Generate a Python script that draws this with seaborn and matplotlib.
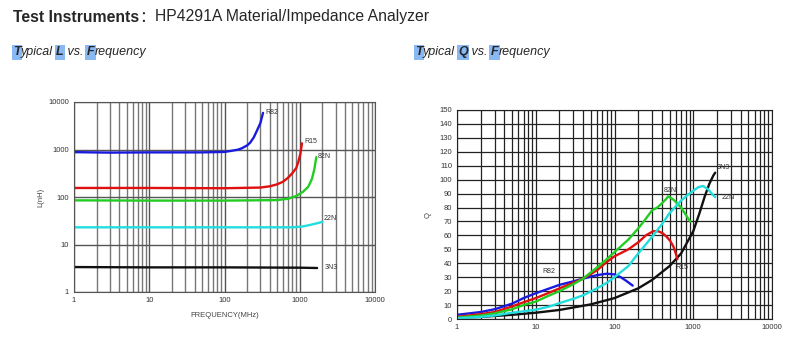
"""Recreate the HP4291A L / Q versus frequency chart."""

import matplotlib
matplotlib.use("Agg")
import matplotlib.pyplot as plt
import numpy as np
import pandas as pd
import seaborn as sns
from matplotlib.ticker import FixedLocator, LogLocator, NullFormatter

# ---- L vs frequency (nH vs MHz) ----
L_R82_F = [1, 3, 10, 50, 100, 120, 150, 170, 200, 220, 245, 270, 300, 325]
L_R82_V = [880, 860, 870, 870, 890, 930, 990, 1060, 1220, 1400, 1800, 2500, 3600, 5900]
L_R15_F = [1, 10, 100, 300, 400, 500, 600, 700, 800, 900, 960, 1020, 1070]
L_R15_V = [155, 155, 153, 158, 168, 185, 210, 255, 320, 410, 560, 820, 1350]
L_82N_F = [1, 10, 100, 500, 700, 900, 1100, 1300, 1450, 1560, 1660]
L_82N_V = [85, 84, 84, 86, 92, 105, 128, 165, 240, 380, 690]
L_22N_F = [1, 10, 100, 800, 1100, 1400, 1700, 2000]
L_22N_V = [23, 23, 23, 23, 24, 26, 28, 30]
L_3N3_F = [1, 10, 100, 1000, 1700]
L_3N3_V = [3.35, 3.3, 3.3, 3.25, 3.2]

# ---- Q vs frequency ----
Q_3N3_F = [1, 2, 5, 10, 20, 50, 100, 200, 300, 500, 700, 1000, 1200, 1400, 1600, 1800, 1900]
Q_3N3_V = [1, 1.5, 3, 4.5, 6.5, 10.5, 15, 22, 28, 38, 47, 63, 76, 88, 97, 103, 105]
Q_R82_F = [1, 2, 3, 5, 7, 10, 15, 20, 30, 40, 60, 80, 100, 120, 140, 170]
Q_R82_V = [3, 5, 7, 11, 15, 18.5, 22, 24.5, 27, 29, 31.5, 32.5, 32, 30, 27.5, 24]
Q_R15_F = [1, 2, 3, 5, 7, 10, 15, 20, 30, 40, 60, 80, 100, 150, 200, 250, 310,
           360, 410, 460, 510, 560, 600, 630]
Q_R15_V = [1.5, 3.5, 5, 9, 12, 15, 19, 22, 26, 29, 35, 41, 45, 50, 55, 60, 63,
           63, 61.5, 59, 56, 52, 47, 43]
Q_82N_F = [1, 2, 3, 5, 7, 10, 15, 20, 30, 40, 60, 80, 100, 150, 200, 250, 300,
           350, 400, 450, 480, 550, 600, 700, 800, 910]
Q_82N_V = [1, 2.5, 4, 7, 10, 12.5, 17, 20, 25, 29, 37, 43, 48, 57, 65, 72, 78,
           80, 83, 86, 88, 86, 84, 80, 75, 70]
Q_22N_F = [1, 2, 3, 5, 7, 10, 15, 20, 30, 40, 60, 80, 100, 150, 200, 300, 400,
           500, 700, 850, 1000, 1150, 1330, 1550, 1750, 1900]
Q_22N_V = [0.5, 1.5, 2.5, 4.5, 5.5, 6.7, 9, 11.4, 14.5, 17, 22, 26, 30, 38, 47,
           59, 68, 76, 85, 89, 92, 94.5, 95.5, 93, 89.5, 87.5]

L_SERIES = [
    ("R82", L_R82_F, L_R82_V, "#1a1adc"),
    ("R15", L_R15_F, L_R15_V, "#e01010"),
    ("82N", L_82N_F, L_82N_V, "#22cc22"),
    ("22N", L_22N_F, L_22N_V, "#22dddd"),
    ("3N3", L_3N3_F, L_3N3_V, "#111111"),
]
Q_SERIES = [
    ("3N3", Q_3N3_F, Q_3N3_V, "#111111"),
    ("R82", Q_R82_F, Q_R82_V, "#1a1adc"),
    ("R15", Q_R15_F, Q_R15_V, "#e01010"),
    ("82N", Q_82N_F, Q_82N_V, "#22cc22"),
    ("22N", Q_22N_F, Q_22N_V, "#22dddd"),
]

sns.set_style("white")
plt.rcParams["font.family"] = ["Liberation Sans", "Noto Sans CJK SC", "DejaVu Sans"]

fig = plt.figure(figsize=(8.0, 3.51), dpi=100)
renderer = fig.canvas.get_renderer()
HIGHLIGHT = "#8ab8f2"


def draw_pieces(x_px, y_px, pieces, size, style="normal", weight="normal"):
    """Draw text pieces one after another, highlighting selected ones."""
    x = x_px / 800
    y = 1 - y_px / 351
    for text, hl, w in pieces:
        kw = {}
        if hl:
            kw["bbox"] = dict(boxstyle="square,pad=0.12", fc=HIGHLIGHT, ec="none")
        t = fig.text(x, y, text, fontsize=size, fontstyle=style,
                     fontweight=w or weight, va="center", ha="left", **kw)
        ext = t.get_window_extent(renderer)
        x += ext.width / 800


draw_pieces(13, 17, [("Test Instruments", False, "bold"),
                     ("：", False, "normal"),
                     ("HP4291A Material/Impedance Analyzer", False, "normal")], 11.3)
sub_l = [("T", True, "bold"), ("ypical ", False, None), ("L", True, "bold"),
         (" vs. ", False, None), ("F", True, "bold"), ("requency", False, None)]
sub_q = [("T", True, "bold"), ("ypical ", False, None), ("Q", True, "bold"),
         (" vs. ", False, None), ("F", True, "bold"), ("requency", False, None)]
draw_pieces(13, 52, sub_l, 9, style="italic")
draw_pieces(415, 52, sub_q, 9, style="italic")


def style_log_x(ax):
    ax.set_xscale("log")
    ax.set_xlim(1, 10000)
    ax.xaxis.set_major_locator(FixedLocator([1, 10, 100, 1000, 10000]))
    ax.xaxis.set_minor_locator(LogLocator(base=10, subs=np.arange(2, 10)))
    ax.xaxis.set_minor_formatter(NullFormatter())
    ax.set_xticklabels(["1", "10", "100", "1000", "10000"])
    ax.tick_params(axis="both", which="both", length=0, labelsize=5.5,
                   colors="#333333")


# ---- left: L vs frequency ----
ax_l = fig.add_axes([74 / 800, 1 - 292 / 351, 301 / 800, 190 / 351])
for name, f, v, c in L_SERIES:
    df = pd.DataFrame({"f": f, "v": v})
    sns.lineplot(data=df, x="f", y="v", color=c, lw=1.7, ax=ax_l)
style_log_x(ax_l)
ax_l.set_yscale("log")
ax_l.set_ylim(1, 10000)
ax_l.yaxis.set_major_locator(FixedLocator([1, 10, 100, 1000, 10000]))
ax_l.yaxis.set_minor_locator(FixedLocator([]))
ax_l.set_yticklabels(["1", "10", "100", "1000", "10000"])
ax_l.grid(True, which="major", color="#555555", lw=1.0)
ax_l.grid(True, which="minor", axis="x", color="#777777", lw=1.0)
ax_l.set_xlabel("FREQUENCY(MHz)", fontsize=5.5, color="#444444", labelpad=6)
ax_l.set_ylabel("L(nH)", fontsize=5.5, color="#444444", labelpad=3)
for s in ax_l.spines.values():
    s.set_color("#555555")
l_labels = {"R82": (345, 6100), "R15": (1150, 1500), "82N": (1750, 700),
            "22N": (2050, 35), "3N3": (2150, 3.3)}
for name, (x, y) in l_labels.items():
    ax_l.text(x, y, name, fontsize=5, color="#333333", va="center")

# ---- right: Q vs frequency ----
ax_q = fig.add_axes([457 / 800, 1 - 319 / 351, 315 / 800, 209 / 351])
for name, f, v, c in Q_SERIES:
    df = pd.DataFrame({"f": f, "v": v})
    sns.lineplot(data=df, x="f", y="v", color=c, lw=1.7, ax=ax_q)
style_log_x(ax_q)
ax_q.set_ylim(0, 150)
ax_q.set_yticks(np.arange(0, 151, 10))
ax_q.grid(True, which="major", color="#222222", lw=0.9)
ax_q.grid(True, which="minor", axis="x", color="#222222", lw=0.9)
ax_q.set_xlabel("")
ax_q.set_ylabel("Q", fontsize=5.5, color="#444444", labelpad=6)
for s in ax_q.spines.values():
    s.set_color("#222222")
q_labels = {"3N3": (2000, 109), "22N": (2300, 87), "82N": (420, 92),
            "R15": (600, 37), "R82": (12, 34)}
for name, (x, y) in q_labels.items():
    ax_q.text(x, y, name, fontsize=5, color="#333333", va="center")

fig.savefig("out.png", dpi=100)
